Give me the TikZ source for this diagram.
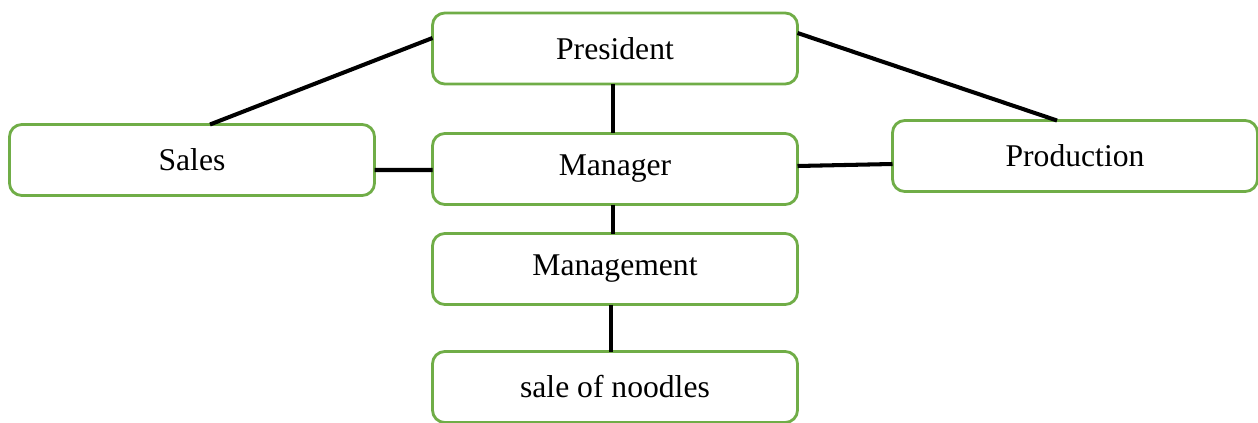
\documentclass[tikz,border=0pt]{standalone}
\usepackage{fontspec}
\setmainfont{Liberation Serif}
\definecolor{BoxGreen}{RGB}{112,173,71}
\usetikzlibrary{positioning}

\begin{document}
\begin{tikzpicture}[every node/.style={font=\fontsize{18}{21}\selectfont},
    unit/.style={draw=BoxGreen,line width=1.6pt,rounded corners=7pt,fill=white,
                 minimum width=7.3cm,minimum height=1.42cm,inner sep=0pt,
                 outer sep=0pt,align=center},
    link/.style={black,line width=2.3pt}]
    \useasboundingbox (0,0) rectangle (25.16,-8.46);
    \node[unit] (pres) at (12.3,-0.97)  {President};
    \node[unit] (sales) at (3.84,-3.2)  {Sales};
    \node[unit] (man) at (12.3,-3.38)   {Manager};
    \node[unit] (prod) at (21.5,-3.12)  {Production};
    \node[unit] (mgmt) at (12.3,-5.38)  {Management};
    \node[unit] (sale) at (12.3,-7.74)  {sale of noodles};
    \draw[link] ([yshift=0.21cm]pres.west) -- ([xshift=0.36cm]sales.north);
    \draw[link] ([yshift=0.31cm]pres.east) -- ([xshift=-0.36cm]prod.north);
    \draw[link] ([xshift=-0.04cm]pres.south) -- ([xshift=-0.04cm]man.north);
    \draw[link] ([yshift=-0.2cm]sales.east) -- ([yshift=-0.02cm]man.west);
    \draw[link] ([yshift=0.06cm]man.east) -- ([yshift=-0.16cm]prod.west);
    \draw[link] ([xshift=-0.04cm]man.south) -- ([xshift=-0.04cm]mgmt.north);
    \draw[link] ([xshift=-0.08cm]mgmt.south) -- ([xshift=-0.08cm]sale.north);
\end{tikzpicture}
\end{document}
